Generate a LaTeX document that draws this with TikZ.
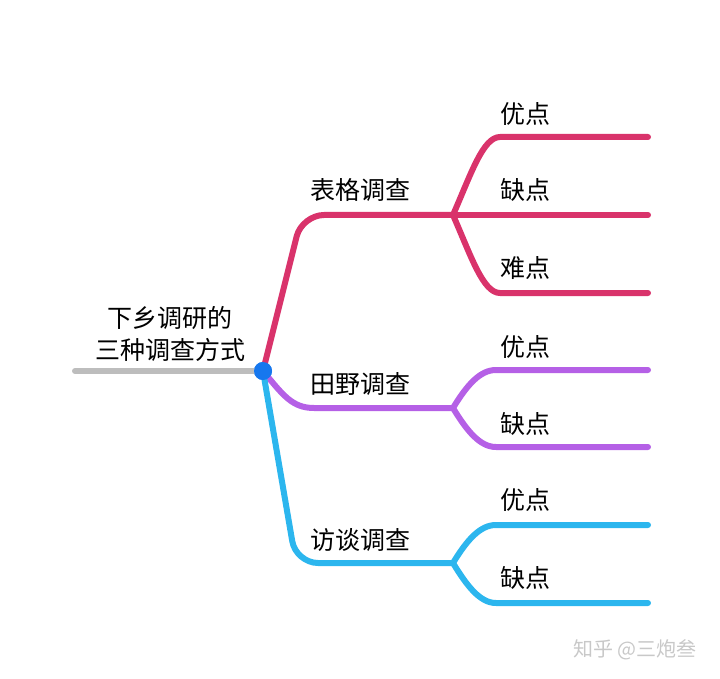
\documentclass[tikz,border=0pt]{standalone}
\usepackage{fontspec}
\newfontfamily\cjk{Noto Sans CJK SC}
\definecolor{BIAOGE}{HTML}{D9336B}
\definecolor{TIANYE}{HTML}{B560E6}
\definecolor{FANGTAN}{HTML}{2CB6EE}
\definecolor{TRUNK}{HTML}{BDBDBD}
\definecolor{HUB}{HTML}{1677EE}
\definecolor{MARK}{HTML}{C8C8C8}

\begin{document}
\begin{tikzpicture}[x=1pt, y=-1pt, every node/.style={font=\cjk\fontsize{25}{32}\selectfont, text=black, inner sep=0pt}, limb/.style={line width=6pt, line cap=round, line join=round}, elbow/.style={rounded corners=22pt}]
				\useasboundingbox (0,0) rectangle (720,679);

				% centre and trunk
				\node [circle, fill=HUB, minimum size=18pt] (hub) at (263,371) {};
				\coordinate (tail) at (75,371);
				\node [align=center] (title) at (170,334) {下乡调研的\\三种调查方式};

				% forks
				\coordinate (fb) at (453,215);
				\coordinate (ft) at (453,408);
				\coordinate (ff) at (453,563);

				% leaf ends
				\coordinate (b1) at (648,137);
				\coordinate (b2) at (648,215);
				\coordinate (b3) at (648,293);
				\coordinate (t1) at (648,370);
				\coordinate (t2) at (648,447);
				\coordinate (f1) at (648,525);
				\coordinate (f2) at (648,603);

				\draw [limb, TRUNK] (tail) -- (hub.center);

				% 表格调查
				\draw [limb, elbow, BIAOGE] (hub.center) -- (302,215) -- (fb);
				\draw [limb, BIAOGE] (fb) .. controls (471,174) and (483,137) .. (500,137) -- (b1);
				\draw [limb, BIAOGE] (fb) -- (b2);
				\draw [limb, BIAOGE] (fb) .. controls (471,256) and (483,293) .. (500,293) -- (b3);

				% 田野调查
				\draw [limb, TIANYE] (hub.center) .. controls (283,395) and (292,408) .. (314,408) -- (ft);
				\draw [limb, TIANYE] (ft) .. controls (467,385) and (480,370) .. (496,370) -- (t1);
				\draw [limb, TIANYE] (ft) .. controls (467,431) and (480,447) .. (496,447) -- (t2);

				% 访谈调查
				\draw [limb, elbow, FANGTAN] (hub.center) -- (296,563) -- (ff);
				\draw [limb, FANGTAN] (ff) .. controls (467,540) and (480,525) .. (496,525) -- (f1);
				\draw [limb, FANGTAN] (ff) .. controls (467,586) and (480,603) .. (496,603) -- (f2);

				\node [circle, fill=HUB, minimum size=18pt] at (hub) {};

				% labels
				\node [anchor=west] (lb) at (310,190) {表格调查};
				\node [anchor=west] (lt) at (310,384) {田野调查};
				\node [anchor=west] (lf) at (310,540) {访谈调查};

				\node [anchor=west] (lb1) at (500,114) {优点};
				\node [anchor=west] (lb2) at (500,190) {缺点};
				\node [anchor=west] (lb3) at (500,268) {难点};
				\node [anchor=west] (lt1) at (500,347) {优点};
				\node [anchor=west] (lt2) at (500,424) {缺点};
				\node [anchor=west] (lf1) at (500,500) {优点};
				\node [anchor=west] (lf2) at (500,578) {缺点};

				\node [text=MARK, font=\cjk\fontsize{20}{24}\selectfont] (mark) at (635,650) {知乎 @三炮叁};
			\end{tikzpicture}
\end{document}
